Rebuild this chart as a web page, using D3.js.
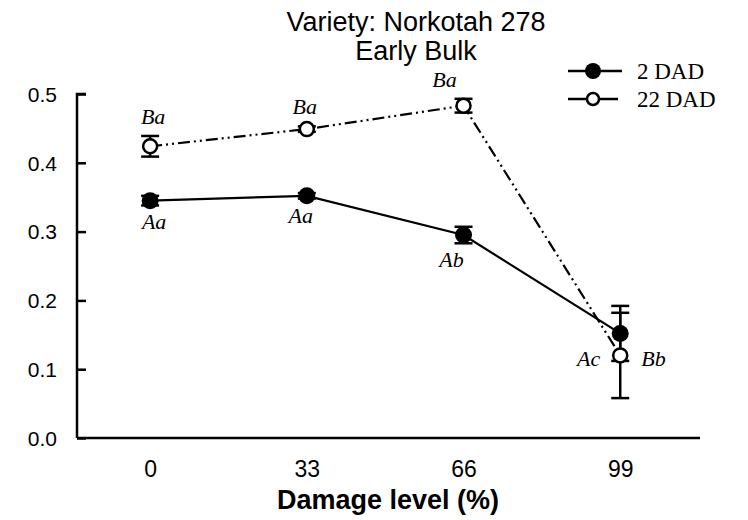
<!DOCTYPE html>
<html>
<head>
<meta charset="utf-8">
<script src="https://cdn.jsdelivr.net/npm/d3@7"></script>
<style>
  body { margin: 0; background: #fff; }
  svg { display: block; }
  .tick-label { font-family: Arial, "Liberation Sans", sans-serif; fill: #000; }
  .sig { font-family: "Times New Roman", "Liberation Serif", serif; font-style: italic; font-size: 22px; fill: #000; }
  .legend-text { font-family: "Times New Roman", "Liberation Serif", serif; font-size: 23px; fill: #000; }
</style>
</head>
<body>
<div id="chart"></div>
<script>
/* chart data */
const damageLevels = [0, 33, 66, 99]
const dad2Values = [0.345, 0.352, 0.295, 0.152]
const dad2Errors = [0.007, 0.004, 0.012, 0.04]
const dad22Values = [0.424, 0.449, 0.483, 0.12]
const dad22Errors = [0.015, 0.004, 0.01, 0.062]
const dad2Letters = ['Aa', 'Aa', 'Ab', 'Ac']
const dad22Letters = ['Ba', 'Ba', 'Ba', 'Bb']
const yTicks = [0.0, 0.1, 0.2, 0.3, 0.4, 0.5]
const seriesNames = ['2 DAD', '22 DAD']

/* dimensions */
const W = 748
const H = 520
const plotLeft = 77, plotRight = 700, plotTop = 94, plotBottom = 438

/* letter label nudges (px) so they sit like the original */
const dad22LabelDx = [3, -2, -19, 21]
const dad2LabelDx = [4, -6, -12, -20]

const svg = d3.select('#chart').append('svg').attr('width', W).attr('height', H)

/* scales */
const x = d3.scaleLinear().domain([-15.4, 115.8]).range([plotLeft, plotRight])
const y = d3.scaleLinear().domain([0, 0.5]).range([plotBottom, plotTop])

/* title */
svg.append('text')
  .attr('x', 416).attr('y', 31)
  .attr('text-anchor', 'middle')
  .style('font-family', 'Arial, "Liberation Sans", sans-serif')
  .style('font-size', '27px')
  .text('Variety: Norkotah 278')
svg.append('text')
  .attr('x', 416).attr('y', 60)
  .attr('text-anchor', 'middle')
  .style('font-family', 'Arial, "Liberation Sans", sans-serif')
  .style('font-size', '27px')
  .text('Early Bulk')

/* y axis (inside ticks) */
const yAxis = svg.append('g')
  .attr('transform', `translate(${plotLeft},0)`)
  .call(d3.axisRight(y).tickValues(yTicks).tickSize(9).tickFormat(d3.format('.1f')))
yAxis.attr('font-size', 21).attr('font-family', 'Arial, "Liberation Sans", sans-serif')
yAxis.select('.domain').attr('d', `M9,${plotTop}H0V${plotBottom}`).attr('stroke-width', 2.5)
yAxis.selectAll('.tick line').attr('stroke-width', 2.5)
yAxis.selectAll('.tick text')
  .attr('class', 'tick-label')
  .attr('font-size', 21)
  .style('font-size', '21px')
  .attr('x', -20)
  .attr('text-anchor', 'end')
  .attr('dy', '0.35em')

/* x axis (no ticks) */
const xAxis = svg.append('g')
  .attr('transform', `translate(0,${plotBottom})`)
  .call(d3.axisBottom(x).tickValues(damageLevels).tickSize(0))
xAxis.attr('font-size', 23).attr('font-family', 'Arial, "Liberation Sans", sans-serif')
xAxis.select('.domain').attr('d', `M${plotLeft},0H${plotRight}`).attr('stroke-width', 2.5)
xAxis.selectAll('.tick text')
  .attr('class', 'tick-label')
  .attr('font-size', 23)
  .style('font-size', '23px')
  .attr('y', 23)
  .attr('dy', '0.71em')

/* x axis title */
svg.append('text')
  .attr('x', 388).attr('y', 509)
  .attr('text-anchor', 'middle')
  .style('font-family', 'Arial, "Liberation Sans", sans-serif')
  .style('font-size', '27px')
  .style('font-weight', 'bold')
  .text('Damage level (%)')

const dad2 = damageLevels.map((d, i) => ({ x: d, y: dad2Values[i], e: dad2Errors[i], lab: dad2Letters[i] }))
const dad22 = damageLevels.map((d, i) => ({ x: d, y: dad22Values[i], e: dad22Errors[i], lab: dad22Letters[i] }))

const line = d3.line().x(d => x(d.x)).y(d => y(d.y))
const capW = 9

/* fn: error bars */
function errorBars(data) {
  const g = svg.append('g').attr('stroke', '#000').attr('stroke-width', 2.5)
  data.forEach(d => {
    const cx = x(d.x)
    g.append('line').attr('x1', cx).attr('x2', cx).attr('y1', y(d.y - d.e)).attr('y2', y(d.y + d.e))
    g.append('line').attr('x1', cx - capW).attr('x2', cx + capW).attr('y1', y(d.y + d.e)).attr('y2', y(d.y + d.e))
    g.append('line').attr('x1', cx - capW).attr('x2', cx + capW).attr('y1', y(d.y - d.e)).attr('y2', y(d.y - d.e))
  })
}

/* lines */
svg.append('path').datum(dad22).attr('d', line)
  .attr('fill', 'none').attr('stroke', '#000').attr('stroke-width', 2.2)
  .attr('stroke-dasharray', '12,4,2,4,2,4')
svg.append('path').datum(dad2).attr('d', line)
  .attr('fill', 'none').attr('stroke', '#000').attr('stroke-width', 2.2)

errorBars(dad2)
errorBars(dad22)

/* markers */
svg.selectAll('circle.d2').data(dad2).join('circle')
  .attr('class', 'd2')
  .attr('cx', d => x(d.x)).attr('cy', d => y(d.y)).attr('r', 8.5)
  .attr('fill', '#000')
svg.selectAll('circle.d22').data(dad22).join('circle')
  .attr('class', 'd22')
  .attr('cx', d => x(d.x)).attr('cy', d => y(d.y)).attr('r', 7)
  .attr('fill', '#fff').attr('stroke', '#000').attr('stroke-width', 2.5)

/* significance letters */
dad22.forEach((d, i) => {
  const last = i === dad22.length - 1
  svg.append('text').attr('class', 'sig')
    .attr('x', x(d.x) + dad22LabelDx[i])
    .attr('y', last ? y(d.y) + 11 : y(d.y + d.e) - 12)
    .attr('text-anchor', last ? 'start' : 'middle')
    .text(d.lab)
})
dad2.forEach((d, i) => {
  const last = i === dad2.length - 1
  svg.append('text').attr('class', 'sig')
    .attr('x', x(d.x) + dad2LabelDx[i])
    .attr('y', last ? y(dad22[i].y) + 11 : y(d.y - d.e) + 24)
    .attr('text-anchor', last ? 'end' : 'middle')
    .text(d.lab)
})

/* legend */
const legend = svg.append('g')
seriesNames.forEach((name, i) => {
  const ly = 71 + i * 28
  legend.append('line')
    .attr('x1', 568).attr('x2', i === 0 ? 622 : 618)
    .attr('y1', ly).attr('y2', ly)
    .attr('stroke', '#000').attr('stroke-width', 2.5)
  legend.append('circle')
    .attr('cx', 593).attr('cy', ly).attr('r', i === 0 ? 8 : 6)
    .attr('fill', i === 0 ? '#000' : '#fff')
    .attr('stroke', '#000').attr('stroke-width', i === 0 ? 0 : 2.5)
  legend.append('text').attr('class', 'legend-text')
    .attr('x', 637).attr('y', ly + 8)
    .text(name)
})
</script>
</body>
</html>
